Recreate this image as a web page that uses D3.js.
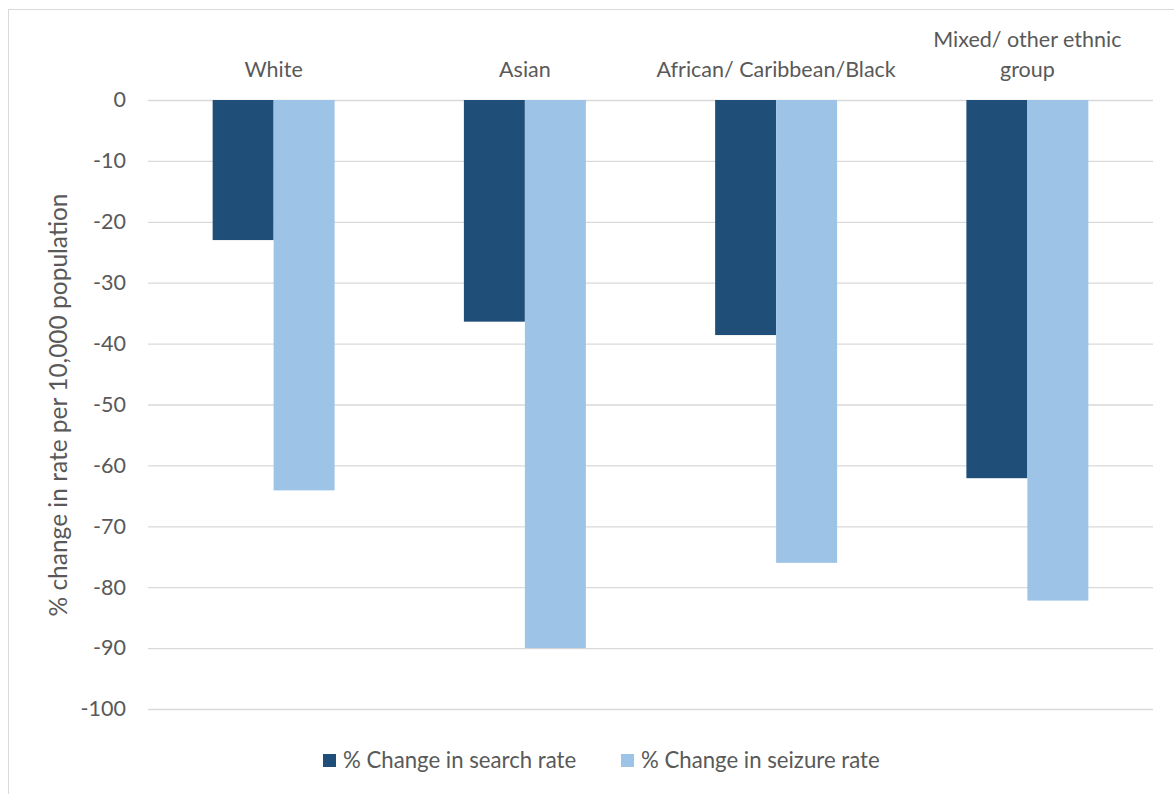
<!DOCTYPE html>
<html>
<head>
<meta charset="utf-8">
<script src="https://cdn.jsdelivr.net/npm/d3@7"></script>
<style>
  html, body { margin: 0; padding: 0; background: #fff; }
  svg { display: block; }
  text { font-family: Lato, "Open Sans", sans-serif; fill: #595959; }
</style>
</head>
<body>
<svg id="chart" width="1174" height="794"></svg>
<script>
// Ethnic groups (category labels may wrap onto two lines)
const categories = ["White", "Asian", "African/ Caribbean/Black", "Mixed/ other ethnic group"];
const categoryLines = [["White"], ["Asian"], ["African/ Caribbean/Black"], ["Mixed/ other ethnic", "group"]];
const seriesNames = ["% Change in search rate", "% Change in seizure rate"];
const searchRate = [-23.0, -36.4, -38.6, -62.1];
const seizureRate = [-64.1, -90.0, -76.0, -82.2];
const yTicks = [0, -10, -20, -30, -40, -50, -60, -70, -80, -90, -100];
const colors = ["#1F4E79", "#9DC3E6"];

const svg = d3.select("#chart");
const plot = { left: 148, right: 1153, top: 100, bottom: 709 };

// chart frame (top and left edges visible)
svg.append("rect")
  .attr("x", 8.5).attr("y", 9.5)
  .attr("width", 1200).attr("height", 820)
  .attr("fill", "none").attr("stroke", "#d9d9d9").attr("stroke-width", 1);

const x = d3.scaleBand().domain(categories).range([plot.left, plot.right]);
const inner = d3.scaleBand().domain(seriesNames)
  .range([0, x.bandwidth()]).paddingOuter(1.06).paddingInner(0);
const y = d3.scaleLinear().domain([0, -100]).range([plot.top, plot.bottom]);

// horizontal gridlines and value labels
const yAxis = d3.axisLeft(y).tickValues(yTicks).tickSize(-(plot.right - plot.left)).tickPadding(22)
  .tickFormat(d => String(d));
const gy = svg.append("g").attr("transform", `translate(${plot.left},0)`).call(yAxis);
gy.select(".domain").remove();
gy.selectAll(".tick line").attr("stroke", "#d9d9d9").attr("stroke-width", 1.3);
gy.selectAll(".tick text")
  .attr("font-size", 21.5).attr("fill", "#595959")
  .attr("font-family", "Lato, 'Open Sans', sans-serif");

// bars
const rows = categories.map((c, i) => ({ cat: c, values: [searchRate[i], seizureRate[i]] }));
const groups = svg.append("g").selectAll("g").data(rows).join("g")
  .attr("transform", d => `translate(${x(d.cat)},0)`);
groups.selectAll("rect")
  .data(d => d.values.map((v, j) => ({ name: seriesNames[j], v, j })))
  .join("rect")
  .attr("x", d => inner(d.name))
  .attr("width", inner.bandwidth())
  .attr("y", y(0))
  .attr("height", d => y(d.v) - y(0))
  .attr("fill", d => colors[d.j]);

// category labels above the plot
const catG = svg.append("g");
categoryLines.forEach((lines, i) => {
  const cx = x(categories[i]) + x.bandwidth() / 2;
  const n = lines.length;
  lines.forEach((ln, k) => {
    catG.append("text")
      .attr("x", cx)
      .attr("y", 77 - (n - 1 - k) * 30)
      .attr("text-anchor", "middle")
      .attr("font-size", 21.5)
      .text(ln);
  });
});

// y-axis title
svg.append("text")
  .attr("transform", `translate(67,405) rotate(-90)`)
  .attr("text-anchor", "middle")
  .attr("font-size", 24.5)
  .text("% change in rate per 10,000 population");

// legend
const legendItems = [{ name: seriesNames[0], x: 323 }, { name: seriesNames[1], x: 621 }];
const lg = svg.append("g");
legendItems.forEach((it, i) => {
  lg.append("rect").attr("x", it.x).attr("y", 754).attr("width", 13).attr("height", 13)
    .attr("fill", colors[i]);
  lg.append("text").attr("x", it.x + 20).attr("y", 768)
    .attr("font-size", 22.2).text(it.name);
});
</script>
</body>
</html>
